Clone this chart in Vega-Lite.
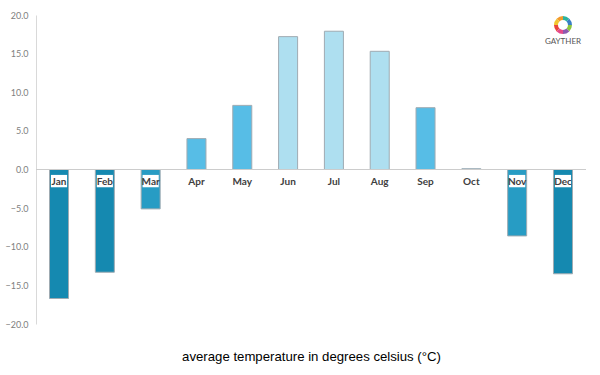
{
  "$schema": "https://vega.github.io/schema/vega-lite/v6.json",
  "width": 550,
  "height": 309,
  "autosize": "none",
  "padding": {"left": 36, "top": 15, "right": 14, "bottom": 51},
  "config": {"view": {"stroke": null}, "font": "Lato",
    "axisY": {"format": ".1f",
      "grid": false, "ticks": false, "title": null, "domainColor": "#d9d9d9",
      "labelOverlap": false, "labelBound": false, "labelFlush": false,
      "labelColor": "#808080", "labelFontSize": 9, "labelPadding": 8}},
  "datasets": {
    "temps": [
      {"month": "Jan", "temp": -16.7},
      {"month": "Feb", "temp": -13.3},
      {"month": "Mar", "temp": -5.1},
      {"month": "Apr", "temp": 4.0},
      {"month": "May", "temp": 8.3},
      {"month": "Jun", "temp": 17.2},
      {"month": "Jul", "temp": 17.9},
      {"month": "Aug", "temp": 15.3},
      {"month": "Sep", "temp": 8.0},
      {"month": "Oct", "temp": 0.1},
      {"month": "Nov", "temp": -8.6},
      {"month": "Dec", "temp": -13.5}
    ],
    "logo": [
      {"k": 1, "c": "#e8453c"}, {"k": 1, "c": "#f39a2b"}, {"k": 1, "c": "#f2c530"}, {"k": 1, "c": "#8cc63f"},
      {"k": 1, "c": "#2bb3a0"}, {"k": 1, "c": "#3a7fc4"}, {"k": 1, "c": "#8e5bb0"}, {"k": 1, "c": "#e64a8a"}
    ]
  },
  "data": {"name": "temps"},
  "resolve": {"scale": {"color": "independent"}},
  "layer": [
    {
      "mark": {"type": "bar", "stroke": "#9fabb2", "strokeWidth": 1},
      "encoding": {
        "x": {
          "field": "month", "type": "nominal", "sort": null,
          "scale": {"paddingInner": 0.585, "paddingOuter": 0.295},
          "axis": {"labels": false, "ticks": false, "domain": false,
            "title": "average temperature in degrees celsius (°C)",
            "titleFont": "Liberation Sans", "titleFontSize": 13.2, "titleFontWeight": "normal",
            "titleColor": "#000000", "titlePadding": 26}
        },
        "y": {
          "field": "temp", "type": "quantitative",
          "scale": {"domain": [-20, 20], "nice": false},
          "axis": {"values": [-20, -15, -10, -5, 0, 5, 10, 15, 20], "tickCount": 9, "title": null}
        },
        "color": {
          "field": "temp", "type": "quantitative", "legend": null,
          "scale": {"type": "threshold", "domain": [-10, 0, 10],
            "range": ["#1589b0", "#279cc4", "#57bde6", "#aedff0"]}
        }
      }
    },
    {
      "mark": {"type": "rule", "color": "#cccccc", "strokeWidth": 1},
      "encoding": {"y": {"datum": 0, "axis": {"values": [-20, -15, -10, -5, 0, 5, 10, 15, 20], "tickCount": 9, "title": null}}}
    },
    {
      "transform": [{"filter": "datum.temp < 0"}],
      "mark": {"type": "bar", "color": "#ffffff", "width": {"band": 0.85}},
      "encoding": {
        "x": {"field": "month", "type": "nominal", "sort": null},
        "y": {"datum": -0.7, "axis": {"values": [-20, -15, -10, -5, 0, 5, 10, 15, 20], "tickCount": 9, "title": null}},
        "y2": {"datum": -2.3}
      }
    },
    {
      "mark": {"type": "text", "dy": 12, "fontSize": 10, "fontWeight": "bold", "color": "#404040", "baseline": "middle"},
      "encoding": {
        "x": {"field": "month", "type": "nominal", "sort": null},
        "y": {"datum": 0, "axis": {"values": [-20, -15, -10, -5, 0, 5, 10, 15, 20], "tickCount": 9, "title": null}},
        "text": {"field": "month"}
      }
    },
    {
      "data": {"values": [{"t": "GAYTHER"}]},
      "mark": {"type": "text", "fontSize": 8, "color": "#555555", "font": "Lato", "baseline": "middle"},
      "encoding": {
        "x": {"datum": "Dec"},
        "y": {"datum": 16.5, "axis": {"values": [-20, -15, -10, -5, 0, 5, 10, 15, 20], "tickCount": 9, "title": null}},
        "text": {"field": "t"}
      }
    },
    {
      "data": {"name": "logo"},
      "mark": {"type": "arc", "innerRadius": 5, "outerRadius": 9},
      "encoding": {
        "x": {"datum": "Dec"},
        "y": {"datum": 18.7, "axis": {"values": [-20, -15, -10, -5, 0, 5, 10, 15, 20], "tickCount": 9, "title": null}},
        "theta": {"field": "k", "type": "quantitative", "stack": true},
        "color": {"field": "c", "type": "nominal", "scale": null, "legend": null}
      }
    }
  ]
}
